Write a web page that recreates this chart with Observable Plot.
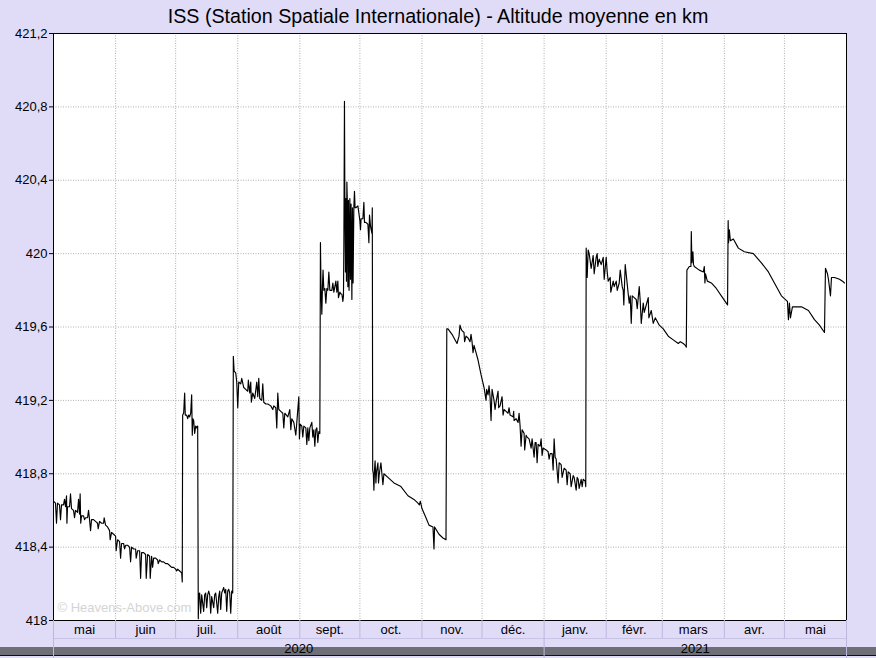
<!DOCTYPE html>
<html>
<head>
<meta charset="utf-8">
<script src="https://cdn.jsdelivr.net/npm/d3@7"></script>
<script src="https://cdn.jsdelivr.net/npm/@observablehq/plot@0.6"></script>
<style>
  html, body { margin: 0; padding: 0; background: #e0dcf8; width: 876px; height: 658px; overflow: hidden; position: relative; }
  #band { position: absolute; left: 0; top: 647px; width: 876px; height: 8px; background: #6e6e78; }
  #band2 { position: absolute; left: 0; top: 655px; width: 876px; height: 1px; background: #111; }
  #chart { position: absolute; left: 0; top: 0; }
</style>
</head>
<body>
<div id="band"></div><div id="band2"></div>
<div id="chart"></div>
<script>
const title = "ISS (Station Spatiale Internationale) - Altitude moyenne en km";
const monthLabels = ["mai","juin","juil.","août","sept.","oct.","nov.","déc.","janv.","févr.","mars","avr.","mai"];
const yearLabels = ["2020","2021"];
const yTicks = [418, 418.4, 418.8, 419.2, 419.6, 420, 420.4, 420.8, 421.2];
const startDate = "2020-05-01";
const endDate = "2021-06-01";

// [days since 1 May 2020, mean altitude km]
const segMayJun = [[0,418.65],[1,418.64],[1.5,418.53],[2,418.64],[3,418.63],[3.5,418.55],[4,418.63],[5,418.63],[5.5,418.66],[6,418.62],[6.5,418.68],[6.7,418.53],[7,418.62],[8,418.62],[8.5,418.69],[9,418.61],[10,418.60],[10.5,418.56],[11,418.60],[12,418.59],[12.5,418.66],[13,418.58],[13.3,418.69],[13.6,418.53],[14,418.57],[15,418.57],[15.5,418.55],[16,418.56],[17,418.56],[17.5,418.60],[18,418.55],[18.5,418.49],[19,418.55],[20,418.55],[21,418.54],[22,418.53],[22.3,418.50],[23,418.54],[24,418.53],[25,418.53],[25.3,418.56],[26,418.52],[27,418.51],[28,418.49],[28.3,418.44],[29,418.48],[30,418.47],[31,418.46],[31.3,418.38],[32,418.44],[33,418.43],[33.5,418.34],[34,418.42],[35,418.42],[35.5,418.39],[36,418.41],[37,418.41],[38,418.40],[38.5,418.32],[39,418.40],[40,418.39],[41,418.39],[41.3,418.34],[42,418.38],[43,418.38],[43.5,418.23],[44,418.37],[45,418.37],[46,418.36],[46.3,418.23],[47,418.36],[48,418.35],[48.3,418.23],[49,418.35],[49.5,418.29],[50,418.34],[51,418.34],[52,418.33],[52.3,418.31],[53,418.33],[54,418.32],[55,418.32],[56,418.31],[57,418.31],[58,418.30],[59,418.29],[60,418.29],[61,418.28],[61.5,418.27],[62,418.28],[63,418.27],[64,418.26],[64.3,418.21]];
const segJulA = [[64.5,419.12],[65,419.13],[65.5,419.24],[65.8,419.12],[66.5,419.12],[67,419.10],[67.5,419.12],[68,419.11],[68.5,419.13],[69,419.23],[69.3,419.01],[69.6,419.10],[70,419.09],[70.5,419.02],[71,419.06],[71.5,419.05],[72,419.06]];
const segJulB = [[72.3,418.01],[72.6,418.14],[73,418.15],[73.5,418.04],[74,418.14],[75,418.05],[75.5,418.14],[76,418.15],[76.5,418.07],[77,418.14],[77.5,418.16],[78,418.14],[78.5,418.04],[79,418.13],[80,418.07],[80.5,418.14],[81,418.15],[82,418.04],[82.5,418.13],[83,418.16],[83.5,418.06],[84,418.15],[85,418.18],[85.5,418.15],[86,418.17],[86.5,418.05],[87,418.16],[87.5,418.17],[88,418.15],[88.5,418.04],[89,418.16],[89.5,418.15]];
const segAug = [[89.8,419.44],[90.2,419.36],[91,419.35],[91.5,419.30],[92,419.16],[92.5,419.30],[93.5,419.29],[94,419.32],[95,419.27],[96,419.26],[97,419.25],[97.3,419.31],[98,419.24],[98.5,419.30],[98.8,419.19],[99.5,419.24],[100.5,419.21],[101.5,419.30],[102,419.22],[102.5,419.32],[103,419.21],[104,419.20],[104.5,419.29],[105,419.19],[106,419.18],[107,419.18],[108.5,419.17],[109.5,419.15],[110,419.17],[111,419.16],[111.5,419.05],[112,419.24],[112.5,419.15],[113.5,419.14],[114.5,419.13],[115,419.05],[115.5,419.13],[117,419.11],[118,419.15],[118.5,419.04],[119,419.10],[120,419.08],[121,419.01],[121.5,419.08],[122.5,419.22],[122.8,418.99],[123.2,419.07],[124,419.06],[124.5,419.00],[125,419.06],[126,419.05],[126.5,418.96],[127,419.05],[127.5,418.98],[128,419.05],[129,419.08],[129.5,419.00],[130,419.04],[130.5,418.95],[131,419.04],[131.5,419.05],[132,418.97],[132.5,419.03],[133,419.02]];
const segSepA = [[133.3,420.06],[133.6,419.81],[134,419.67],[134.3,419.82],[134.6,419.91],[135,419.80],[135.5,419.81],[136,419.73],[136.5,419.81],[137,419.80],[137.5,419.90],[138,419.80],[139,419.80],[139.5,419.84],[140,419.79],[141,419.85],[141.5,419.79],[142,419.85],[142.3,419.76],[143,419.79],[143.5,419.78],[144,419.78],[144.5,419.74],[144.8,419.77]];
const segSepB = [[145,420.05],[145.3,420.83],[145.5,420.28],[145.8,419.90],[146,420.30],[146.3,419.85],[146.5,420.39],[146.7,420.30],[147,419.82],[147.3,420.29],[147.6,419.80],[148,420.30],[148.3,419.86],[148.6,420.27],[149,419.75],[149.3,420.25],[149.6,419.84],[150,420.26],[150.3,420.34],[150.6,420.25],[151,420.25],[152,420.26],[152.5,420.22],[153,420.18],[153.3,420.13],[153.6,420.19],[154.5,420.19],[155,420.28],[155.3,420.17],[156,420.17],[157,420.16],[157.5,420.06],[157.8,420.21],[158.3,420.15],[159,420.11],[159.2,420.25]];
const segOct = [[159.4,418.82],[159.7,418.80],[160,418.71],[160.3,418.82],[160.6,418.87],[161,418.75],[161.3,418.81],[162,418.86],[162.3,418.75],[162.7,418.80],[163.5,418.86],[164,418.80],[164.5,418.74],[165,418.80],[167,418.78],[170,418.75],[173.5,418.73],[177,418.68],[180,418.66],[182,418.64],[182.7,418.63],[183.2,418.65],[184,418.61],[186,418.56],[187.5,418.52],[189.5,418.51],[190,418.39],[190.3,418.51],[192.5,418.47],[194.5,418.45],[196,418.44]];
const segNovDec = [[196.4,419.59],[197,419.59],[199,419.56],[201.5,419.51],[202.5,419.55],[203,419.61],[203.5,419.59],[204,419.58],[205,419.57],[205.3,419.52],[206,419.55],[207,419.54],[208,419.52],[208.5,419.56],[209,419.52],[209.5,419.46],[210,419.50],[211,419.46],[212,419.42],[213.5,419.34],[215,419.27],[216,419.20],[216.3,419.26],[217,419.23],[217.5,419.28],[218,419.22],[218.5,419.09],[219,419.26],[220,419.20],[220.5,419.15],[221,419.19],[222,419.25],[222.3,419.16],[223,419.17],[224,419.22],[224.5,419.12],[225,419.15],[226,419.14],[227,419.13],[227.5,419.16],[228,419.12],[229.5,419.11],[229.8,419.14],[230,419.09],[231,419.10],[232,419.08],[232.5,419.13],[233,419.06],[233.5,418.95],[234,419.04],[235,419.02],[235.3,418.93],[236,419.01],[236.5,419.00],[237.5,418.99],[238.5,418.94],[239,418.99],[240,418.89],[240.5,418.97],[241,418.97],[241.5,418.86],[242,418.96],[243,418.95],[243.5,418.99],[244,418.90],[244.5,418.94],[246,418.93],[247,418.92],[247.5,418.88],[248,418.91],[249,418.91],[249.5,418.82],[250,418.99],[250.5,418.89],[251,418.88],[252,418.75],[252.5,418.86],[253.5,418.85],[254,418.78],[255,418.83],[256,418.82],[256.5,418.74],[257,418.81],[258,418.80],[258.5,418.73],[259.5,418.79],[260,418.78],[261,418.71],[261.5,418.78],[262,418.77],[262.5,418.72],[263.5,418.77],[264,418.73],[264.5,418.77],[265.5,418.76],[265.8,418.73]];
const segJanFeb = [[266,420.03],[266.5,419.87],[267,420.02],[267.5,420.00],[268.5,419.92],[269.5,419.99],[270,419.89],[271,419.98],[271.5,420.00],[271.8,419.93],[272.5,419.97],[273.5,419.94],[274.5,419.98],[275,419.86],[276,419.98],[276.5,419.90],[277,419.85],[278,419.87],[278.3,419.79],[279.5,419.85],[280,419.82],[281,419.85],[281.5,419.80],[282.5,419.84],[283,419.91],[284,419.82],[284.5,419.80],[284.8,419.72],[285.5,419.94],[287,419.78],[287.5,419.73],[288,419.77],[288.5,419.62],[289,419.77],[290,419.76],[291,419.75],[291.5,419.70],[292.5,419.82],[293,419.74],[293.5,419.62],[294.5,419.73],[295,419.68],[296,419.72],[297,419.76],[297.3,419.65],[298.5,419.69],[299.5,419.62],[300.5,419.65],[302.5,419.61],[304.5,419.59],[307,419.55],[309.5,419.53],[312,419.51],[313,419.52],[314.5,419.51],[315.5,419.50],[316,419.49]];
const segMar = [[316.3,419.91],[317.5,419.93],[318.3,419.93],[318.5,420.12],[318.8,419.95],[319.3,420.01],[319.6,419.94],[320,419.93],[322.5,419.91],[324.5,419.90],[325,419.93],[325.3,419.84],[325.6,419.89],[326.5,419.85],[328.5,419.84],[331,419.81],[333.5,419.77],[336,419.73],[336.6,419.72]];
const segAprMay = [[336.9,420.18],[337.1,420.06],[337.5,420.13],[338,420.07],[339.5,420.08],[342,420.03],[345,420.01],[349.5,420.00],[353.5,419.95],[357,419.90],[360,419.84],[363.5,419.77],[366.5,419.74],[367,419.64],[367.5,419.73],[368,419.65],[369,419.71],[373.5,419.71],[377,419.69],[380,419.64],[382.5,419.61],[385,419.57],[385.5,419.92],[386.5,419.89],[387,419.86],[388,419.77],[388.5,419.87],[390,419.87],[392.5,419.86],[394,419.85],[395,419.84]];

const t0 = new Date(startDate + "T00:00:00Z");
const t1 = new Date(endDate + "T00:00:00Z");
const toDate = d => new Date(t0.getTime() + d * 864e5);
const points = [].concat(segMayJun, segJulA, segJulB, segAug, segSepA, segSepB, segOct, segNovDec, segJanFeb, segMar, segAprMay)
  .map(([d, v]) => ({date: toDate(d), km: v}));

const monthStarts = d3.utcMonth.range(t0, t1);
const monthEdges = d3.utcMonth.range(t0, d3.utcDay.offset(t1, 1));
const monthMids = monthStarts.map((m, i) => ({
  date: new Date((m.getTime() + d3.utcMonth.offset(m, 1).getTime()) / 2),
  label: monthLabels[i]
}));
const yearEdges = [t0, new Date("2021-01-01T00:00:00Z"), t1];
const yearMids = yearLabels.map((lab, i) => ({date: new Date((yearEdges[i].getTime() + yearEdges[i + 1].getTime()) / 2), label: lab}));

const fmt = d => String(+d.toFixed(1)).replace(".", ",");
const kmPerPx = 3.2 / 587;
const rowMonthBottom = 418 - 18 * kmPerPx;
const rowYearBottom = 418 - 38 * kmPerPx;

const chart = Plot.plot({
  width: 876,
  height: 658,
  marginLeft: 53,
  marginRight: 30,
  marginTop: 33,
  marginBottom: 38,
  style: {fontFamily: "'Liberation Sans', Arial, sans-serif", fontSize: "13px", background: "transparent", color: "#000"},
  x: {type: "utc", domain: [t0, t1], axis: null},
  y: {domain: [418, 421.2], axis: null},
  marks: [
    Plot.frame({fill: "white"}),
    Plot.gridY(yTicks.slice(1, -1), {stroke: "#b0b0b0", strokeOpacity: 1, strokeDasharray: "1,1.5"}),
    Plot.gridX(monthStarts.slice(1), {stroke: "#b0b0b0", strokeOpacity: 1, strokeDasharray: "1,1.5"}),
    Plot.text(["© Heavens-Above.com"], {frameAnchor: "bottom-left", dx: 4, dy: -9, textAnchor: "start", fill: "#d4d4d4", fontSize: 13}),
    Plot.line(points, {x: "date", y: "km", stroke: "black", strokeWidth: 1.15}),
    Plot.frame({stroke: "black"}),
    Plot.axisY({ticks: yTicks, tickFormat: fmt, tickSize: 4, tickPadding: 2, label: null, fontSize: 13}),
    Plot.ruleX(monthEdges, {x: d => d, y1: 418, y2: rowMonthBottom, stroke: "#bcb8dc"}),
    Plot.ruleY([rowMonthBottom], {x1: t0, x2: t1, stroke: "#c8c4e6"}),
    Plot.ruleX(yearEdges, {x: d => d, y1: rowMonthBottom, y2: rowYearBottom, stroke: "#bcb8dc"}),
    Plot.text(monthMids, {x: "date", frameAnchor: "bottom", dy: 9, text: "label", lineAnchor: "middle", fontSize: 13}),
    Plot.text(yearMids, {x: "date", frameAnchor: "bottom", dy: 28, text: "label", lineAnchor: "middle", fontSize: 13}),
    Plot.text([title], {frameAnchor: "top", dx: -12, dy: -17, lineAnchor: "middle", fontSize: 19.7})
  ]
});
document.getElementById("chart").appendChild(chart);
</script>
</body>
</html>
